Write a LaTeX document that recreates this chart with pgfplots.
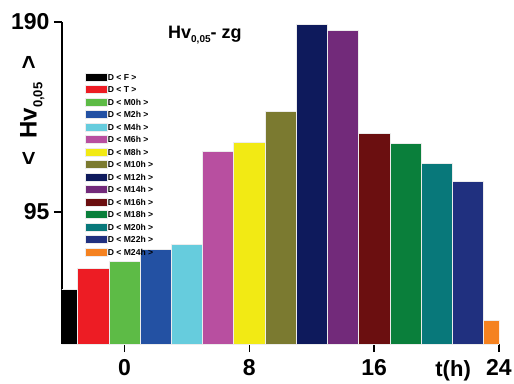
\documentclass[border=0pt]{standalone}
\usepackage{pgfplots}
\pgfplotsset{compat=1.18}
\usepackage{fontspec}
\setmainfont{Liberation Sans}
\definecolor{cF}{HTML}{000000}
\definecolor{cT}{HTML}{ED1C24}
\definecolor{cM0}{HTML}{5DBB46}
\definecolor{cM2}{HTML}{2351A3}
\definecolor{cM4}{HTML}{66CCDD}
\definecolor{cM6}{HTML}{B84FA0}
\definecolor{cM8}{HTML}{F2EA14}
\definecolor{cM10}{HTML}{7B7A30}
\definecolor{cM12}{HTML}{0E1A5C}
\definecolor{cM14}{HTML}{722A7A}
\definecolor{cM16}{HTML}{6B0F10}
\definecolor{cM18}{HTML}{0A7F3B}
\definecolor{cM20}{HTML}{08787A}
\definecolor{cM22}{HTML}{20307F}
\definecolor{cM24}{HTML}{F58220}
\pgfplotsset{
  mybar/.style={ybar, bar width=2, bar shift=0pt, fill=#1, draw=white!85!gray, line width=0.5pt,
    legend image code/.code={\fill[fill=#1] (0pt,-4pt) rectangle (22pt,4pt);}},
}
\begin{document}
\begin{tikzpicture}
\useasboundingbox (-62pt,-39pt) rectangle (452pt,344pt);
\begin{axis}[
  scale only axis, width=437pt, height=322pt,
  at={(0pt,0pt)}, anchor=south west,
  xmin=-4, xmax=24, ymin=29, ymax=190,
  axis x line*=bottom, axis y line*=left,
  axis line style={line width=1.6pt,-},
  xtick={0,8,16,24}, ytick={95,190},
  tick align=outside, major tick length=8pt,
  tick style={line width=1.4pt, black},
  ticklabel style={font=\fontsize{23}{23}\selectfont\bfseries},
  /pgf/number format/assume math mode=true,
  xticklabel style={yshift=-4pt},
  yticklabel style={xshift=-1pt},
  clip mode=individual,
  legend style={at={(rel axis cs:0.046,0.849)}, anchor=north west, draw=none, fill=none,
    font=\fontsize{8.6}{8.6}\selectfont\bfseries, row sep=4pt,
    nodes={inner sep=0pt, text height=6pt, text depth=0pt},
    /tikz/every even column/.style={column sep=0pt}},
  legend cell align=left,
]
\addplot[mybar=cF] coordinates {(-4,56.5)}; \addlegendentry{D < F >}
\addplot[mybar=cT] coordinates {(-2,67)}; \addlegendentry{D < T >}
\addplot[mybar=cM0] coordinates {(0,70.5)}; \addlegendentry{D < M0h >}
\addplot[mybar=cM2] coordinates {(2,76.5)}; \addlegendentry{D < M2h >}
\addplot[mybar=cM4] coordinates {(4,79)}; \addlegendentry{D < M4h >}
\addplot[mybar=cM6] coordinates {(6,125.5)}; \addlegendentry{D < M6h >}
\addplot[mybar=cM8] coordinates {(8,130)}; \addlegendentry{D < M8h >}
\addplot[mybar=cM10] coordinates {(10,145.5)}; \addlegendentry{D < M10h >}
\addplot[mybar=cM12] coordinates {(12,189)}; \addlegendentry{D < M12h >}
\addplot[mybar=cM14] coordinates {(14,186)}; \addlegendentry{D < M14h >}
\addplot[mybar=cM16] coordinates {(16,134.5)}; \addlegendentry{D < M16h >}
\addplot[mybar=cM18] coordinates {(18,129.5)}; \addlegendentry{D < M18h >}
\addplot[mybar=cM20] coordinates {(20,119.5)}; \addlegendentry{D < M20h >}
\addplot[mybar=cM22] coordinates {(22,110.5)}; \addlegendentry{D < M22h >}
\addplot[mybar=cM24] coordinates {(24,41)}; \addlegendentry{D < M24h >}
\node[font=\fontsize{18}{18}\selectfont\bfseries, anchor=center] at (rel axis cs:0.327,0.96)
  {Hv\raisebox{-0.45ex}{\fontsize{10}{10}\selectfont 0,05}- zg};
\node[font=\fontsize{24}{24}\selectfont\bfseries, rotate=90, anchor=center] at (rel axis cs:-0.068,0.725)
  {<\; Hv\raisebox{-0.45ex}{\fontsize{13}{13}\selectfont 0,05}\; >};
\node[font=\fontsize{22}{22}\selectfont\bfseries, anchor=center] at (rel axis cs:0.895,0) [yshift=-27pt] {t(h)};
\end{axis}
\end{tikzpicture}
\end{document}
